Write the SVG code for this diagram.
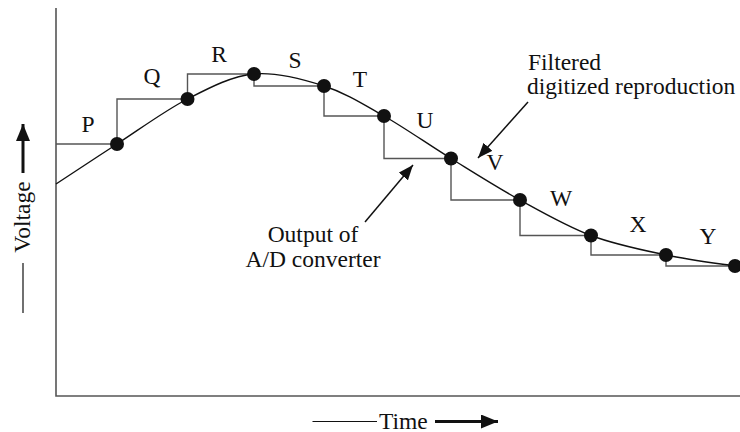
<svg xmlns="http://www.w3.org/2000/svg" width="740" height="432" viewBox="0 0 740 432">
  <style>
    .t { font-family: "Liberation Serif", "Times New Roman", serif; font-size: 23.5px; fill: #111; }
    .axis { stroke: #555; stroke-width: 1.6; fill: none; }
    .stair { stroke: #555; stroke-width: 1.4; fill: none; }
    .curve { stroke: #111; stroke-width: 1.4; fill: none; }
    .dot { fill: #111; }
    .arr { stroke: #111; stroke-width: 1.5; fill: none; }
    .thick { stroke: #111; stroke-width: 3; fill: none; }
    .thin { stroke: #111; stroke-width: 1.2; fill: none; }
  </style>
  <defs>
    <marker id="ah" markerUnits="userSpaceOnUse" markerWidth="16" markerHeight="12" refX="15" refY="6" orient="auto">
      <path d="M0,0 L15,6 L0,12 z" fill="#111"/>
    </marker>
    <marker id="ahb" markerUnits="userSpaceOnUse" markerWidth="18" markerHeight="14" refX="17" refY="7" orient="auto">
      <path d="M0,0 L17,7 L0,14 z" fill="#111"/>
    </marker>
  </defs>
  <rect width="740" height="432" fill="#fff"/>

  <g id="axes">
    <path class="axis" d="M56,8 V396 H740"/>
  </g>

  <g id="staircase">
    <path class="stair" d="M56,144 H117 V99 H187.5 V74 H254 V86 H324 V116 H384 V158.5 H451 V200 H520 V235.5 H591 V255 H666 V266 H735"/>
  </g>

  <g id="curve">
    <path class="curve" d="M56,184 C66.2,177.3 95.1,158.2 117,144 C138.9,129.8 164.7,110.7 187.5,99 C210.3,87.3 231.3,76.2 254,74 C276.75,71.8 302.3,79 324,86 C345.7,93 362.8,103.9 384,116 C405.2,128.1 428.3,144.5 451,158.5 C473.7,172.5 496.7,187.2 520,200 C543.3,212.8 566.7,226.3 591,235.5 C615.3,244.7 642,249.9 666,255 C690,260.1 723.5,264.2 735,266"/>
  </g>

  <g id="samples">
    <circle class="dot" cx="117" cy="144" r="7"/>
    <circle class="dot" cx="187.5" cy="99" r="7"/>
    <circle class="dot" cx="254" cy="74" r="7"/>
    <circle class="dot" cx="324" cy="86" r="7"/>
    <circle class="dot" cx="384" cy="116" r="7"/>
    <circle class="dot" cx="451" cy="158.5" r="7"/>
    <circle class="dot" cx="520" cy="200" r="7"/>
    <circle class="dot" cx="591" cy="235.5" r="7"/>
    <circle class="dot" cx="666" cy="255" r="7"/>
    <circle class="dot" cx="735" cy="266" r="7"/>
  </g>

  <g id="sample-labels" text-anchor="middle">
    <text class="t" x="88" y="131.5">P</text>
    <text class="t" x="152" y="84">Q</text>
    <text class="t" x="219" y="62">R</text>
    <text class="t" x="295" y="68">S</text>
    <text class="t" x="360" y="87">T</text>
    <text class="t" x="425" y="128">U</text>
    <text class="t" x="495" y="170">V</text>
    <text class="t" x="561" y="206">W</text>
    <text class="t" x="638" y="232">X</text>
    <text class="t" x="708" y="244">Y</text>
  </g>

  <g id="label-filtered">
    <text class="t" x="528" y="70">Filtered</text>
    <text class="t" x="527" y="93.5">digitized reproduction</text>
  </g>

  <g id="label-output" text-anchor="middle">
    <text class="t" x="313" y="242">Output of</text>
    <text class="t" x="313" y="267">A/D converter</text>
  </g>

  <g id="voltage-label">
    <text class="t" text-anchor="middle" transform="translate(29.5,217) rotate(-90)">Voltage</text>
  </g>

  <g id="time-label">
    <text class="t" x="379" y="428.5">Time</text>
  </g>

  <g id="connectors">
    <line class="arr" x1="528" y1="102" x2="478" y2="158" marker-end="url(#ah)"/>
    <line class="arr" x1="365" y1="222" x2="413" y2="165" marker-end="url(#ah)"/>
    <line class="thick" x1="23" y1="173" x2="23" y2="124" marker-end="url(#ahb)"/>
    <line class="thin" x1="23" y1="263" x2="23" y2="313"/>
    <line class="thin" x1="312.5" y1="421.5" x2="377" y2="421.5"/>
    <line class="thick" x1="435" y1="421.5" x2="498" y2="421.5" marker-end="url(#ahb)"/>
  </g>
</svg>
